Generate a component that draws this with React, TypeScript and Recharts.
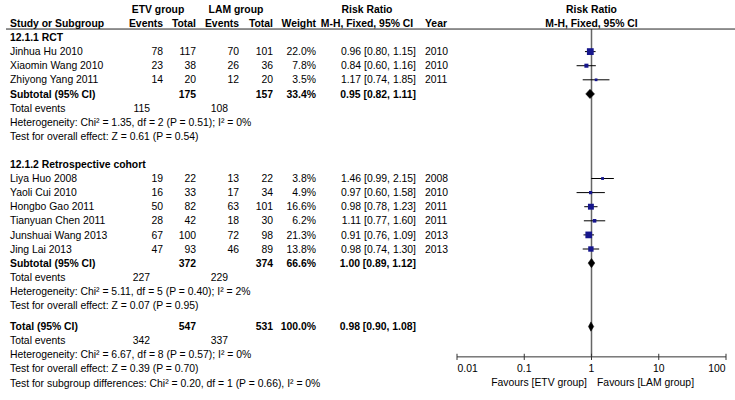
import React from "react";
import { ScatterChart, Scatter, XAxis, YAxis, ReferenceLine, ReferenceDot } from "recharts";

// ---- data ----
const groupTitles = ["12.1.1 RCT", "12.1.2 Retrospective cohort"];

const studyGroup = [0, 0, 0, 1, 1, 1, 1, 1, 1];
const studyNames = [
  "Jinhua Hu 2010",
  "Xiaomin Wang 2010",
  "Zhiyong Yang 2011",
  "Liya Huo 2008",
  "Yaoli Cui 2010",
  "Hongbo Gao 2011",
  "Tianyuan Chen 2011",
  "Junshuai Wang 2013",
  "Jing Lai 2013",
];
const etvEvents = [78, 23, 14, 19, 16, 50, 28, 67, 47];
const etvTotals = [117, 38, 20, 22, 33, 82, 42, 100, 93];
const lamEvents = [70, 26, 12, 13, 17, 63, 18, 72, 46];
const lamTotals = [101, 36, 20, 22, 34, 101, 30, 98, 89];
const studyWeights = [22.0, 7.8, 3.5, 3.8, 4.9, 16.6, 6.2, 21.3, 13.8];
const riskRatios = [0.96, 0.84, 1.17, 1.46, 0.97, 0.98, 1.11, 0.91, 0.98];
const ciLower = [0.8, 0.6, 0.74, 0.99, 0.6, 0.78, 0.77, 0.76, 0.74];
const ciUpper = [1.15, 1.16, 1.85, 2.15, 1.58, 1.23, 1.6, 1.09, 1.3];
const studyYears = [2010, 2010, 2011, 2008, 2010, 2011, 2011, 2013, 2013];

// pooled: RCT subtotal, cohort subtotal, overall total
const pooledLabels = ["Subtotal (95% CI)", "Subtotal (95% CI)", "Total (95% CI)"];
const pooledEtvTotals = [175, 372, 547];
const pooledLamTotals = [157, 374, 531];
const pooledWeights = [33.4, 66.6, 100.0];
const pooledRR = [0.95, 1.0, 0.98];
const pooledLower = [0.82, 0.89, 0.9];
const pooledUpper = [1.11, 1.12, 1.08];
const pooledEtvEvents = [115, 227, 342];
const pooledLamEvents = [108, 229, 337];
const heterogeneityText = [
  "Heterogeneity: Chi² = 1.35, df = 2 (P = 0.51); I² = 0%",
  "Heterogeneity: Chi² = 5.11, df = 5 (P = 0.40); I² = 2%",
  "Heterogeneity: Chi² = 6.67, df = 8 (P = 0.57); I² = 0%",
];
const overallEffectText = [
  "Test for overall effect: Z = 0.61 (P = 0.54)",
  "Test for overall effect: Z = 0.07 (P = 0.95)",
  "Test for overall effect: Z = 0.39 (P = 0.70)",
];
const subgroupTestText = "Test for subgroup differences: Chi² = 0.20, df = 1 (P = 0.66), I² = 0%";

const axisTicks = [0.01, 0.1, 1, 10, 100];
const axisTickLabels = ["0.01", "0.1", "1", "10", "100"];
const favoursLabels = ["Favours [ETV group]", "Favours [LAM group]"];

// ---- layout (y in row units) ----
const FS = 10.4;
const ROW_PX = 14.1;
const Y_MIN = -2.66;
const Y_MAX = Y_MIN + 400 / ROW_PX;
const GROUP_GAPS = [1, 0.5];

type Row = { slot: number; kind: string; idx: number };

const rows: Row[] = [
  { slot: -2, kind: "head1", idx: 0 },
  { slot: -1, kind: "head2", idx: 0 },
  { slot: -0.6, kind: "rule", idx: 0 },
];
const studySlot: number[] = [];
const pooledSlot: number[] = [];
let slot = 0;
groupTitles.forEach((_, g) => {
  rows.push({ slot: slot++, kind: "group", idx: g });
  studyNames.forEach((_, i) => {
    if (studyGroup[i] !== g) return;
    studySlot[i] = slot;
    rows.push({ slot: slot++, kind: "study", idx: i });
  });
  pooledSlot[g] = slot;
  rows.push({ slot: slot++, kind: "pooled", idx: g });
  rows.push({ slot: slot++, kind: "events", idx: g });
  rows.push({ slot: slot++, kind: "het", idx: g });
  rows.push({ slot: slot++, kind: "effect", idx: g });
  slot += GROUP_GAPS[g];
});
const T = groupTitles.length;
pooledSlot[T] = slot;
rows.push({ slot: slot++, kind: "pooled", idx: T });
rows.push({ slot: slot++, kind: "events", idx: T });
rows.push({ slot: slot++, kind: "het", idx: T });
rows.push({ slot: slot++, kind: "effect", idx: T });
rows.push({ slot: slot++, kind: "subgroup", idx: T });

const RULE_SLOT = -0.6;
const AXIS_SLOT = pooledSlot[T] + 2.15;
const TICK_LABEL_SLOT = AXIS_SLOT + 0.78;
const FAVOURS_SLOT = AXIS_SLOT + 1.8;

const squareData = studyNames.map((_, i) => ({
  x: riskRatios[i],
  y: studySlot[i],
  w: studyWeights[i],
}));

const diamondData = pooledRR.map((rr, k) => [
  { x: pooledLower[k], y: pooledSlot[k] },
  { x: rr, y: pooledSlot[k] - 0.33 },
  { x: pooledUpper[k], y: pooledSlot[k] },
  { x: rr, y: pooledSlot[k] + 0.33 },
]);

const fmt = (v: number) => v.toFixed(2);
const ci = (rr: number, lo: number, hi: number) => `${fmt(rr)} [${fmt(lo)}, ${fmt(hi)}]`;

function RowTick(props: any) {
  const { y, payload } = props;
  const row = rows.find((r) => Math.abs(r.slot - payload.value) < 1e-6);
  if (!row) return <g />;
  const t = (x: number, s: string | number, anchor = "start", bold = false) => (
    <text
      x={x}
      y={y}
      dy="0.35em"
      textAnchor={anchor}
      fontWeight={bold ? "bold" : "normal"}
      fontSize={FS}
      fill="#000"
    >
      {s}
    </text>
  );
  const i = row.idx;
  switch (row.kind) {
    case "head1":
      return (
        <g>
          {t(158, "ETV group", "middle", true)}
          {t(236, "LAM group", "middle", true)}
          {t(367, "Risk Ratio", "middle", true)}
        </g>
      );
    case "head2":
      return (
        <g>
          {t(10, "Study or Subgroup", "start", true)}
          {t(163, "Events", "end", true)}
          {t(196, "Total", "end", true)}
          {t(239, "Events", "end", true)}
          {t(273, "Total", "end", true)}
          {t(316, "Weight", "end", true)}
          {t(367, "M-H, Fixed, 95% CI", "middle", true)}
          {t(425, "Year", "start", true)}
        </g>
      );
    case "rule":
      return <line x1={6} x2={735} y1={y} y2={y} stroke="#222" strokeWidth={1} />;
    case "group":
      return <g>{t(10, groupTitles[i], "start", true)}</g>;
    case "study":
      return (
        <g>
          {t(10, studyNames[i])}
          {t(163, etvEvents[i], "end")}
          {t(196, etvTotals[i], "end")}
          {t(239, lamEvents[i], "end")}
          {t(273, lamTotals[i], "end")}
          {t(316, studyWeights[i].toFixed(1) + "%", "end")}
          {t(416, ci(riskRatios[i], ciLower[i], ciUpper[i]), "end")}
          {t(425, studyYears[i])}
        </g>
      );
    case "pooled":
      return (
        <g>
          {t(10, pooledLabels[i], "start", true)}
          {t(196, pooledEtvTotals[i], "end", true)}
          {t(273, pooledLamTotals[i], "end", true)}
          {t(316, pooledWeights[i].toFixed(1) + "%", "end", true)}
          {t(416, ci(pooledRR[i], pooledLower[i], pooledUpper[i]), "end", true)}
        </g>
      );
    case "events":
      return (
        <g>
          {t(10, "Total events")}
          {t(150, pooledEtvEvents[i], "end")}
          {t(228, pooledLamEvents[i], "end")}
        </g>
      );
    case "het":
      return <g>{t(10, heterogeneityText[i])}</g>;
    case "effect":
      return <g>{t(10, overallEffectText[i])}</g>;
    case "subgroup":
      return <g>{t(10, subgroupTestText)}</g>;
  }
  return <g />;
}

const Square = (props: any) => {
  const { cx, cy, payload } = props;
  const s = Math.max(2.6, 1.45 * Math.sqrt(payload.w));
  return <rect x={cx - s / 2} y={cy - s / 2} width={s} height={s} fill="#16168c" />;
};

const DiamondPolygon = (props: any) => {
  const pts = (props.points || []).map((p: any) => `${p.x},${p.y}`).join(" ");
  return <polygon points={pts} fill="#000" stroke="#000" strokeWidth={0.5} />;
};

const labelStyle = { fill: "#000", fontSize: FS };

export default function App() {
  return (
    <div style={{ position: "absolute", left: 0, top: 0, fontFamily: "Arial, 'Liberation Sans', sans-serif" }}>
      <ScatterChart width={735} height={400} margin={{ top: 0, right: 9, bottom: 0, left: 0 }}>
        <XAxis type="number" dataKey="x" scale="log" domain={[0.01, 100]} allowDataOverflow hide />
        <YAxis
          type="number"
          dataKey="y"
          domain={[Y_MIN, Y_MAX]}
          allowDataOverflow
          reversed
          ticks={rows.map((r) => r.slot)}
          interval={0}
          width={457}
          axisLine={false}
          tickLine={false}
          tick={(p: any) => <RowTick {...p} />}
        />

        {/* right header */}
        <ReferenceDot x={1} y={-2} r={0.5} fill="none" stroke="none"
          label={{ value: "Risk Ratio", position: "center", fontWeight: "bold", ...labelStyle }} />
        <ReferenceDot x={1} y={-1} r={0.5} fill="none" stroke="none"
          label={{ value: "M-H, Fixed, 95% CI", position: "center", fontWeight: "bold", ...labelStyle }} />

        {/* line of no effect */}
        <ReferenceLine
          segment={[{ x: 1, y: RULE_SLOT }, { x: 1, y: AXIS_SLOT }]}
          stroke="#666"
          strokeWidth={1.5}
        />

        {/* confidence intervals */}
        {studyNames.map((n, i) => (
          <ReferenceLine
            key={n}
            segment={[{ x: ciLower[i], y: studySlot[i] }, { x: ciUpper[i], y: studySlot[i] }]}
            stroke="#000"
            strokeWidth={1}
          />
        ))}

        {/* axis */}
        <ReferenceLine
          segment={[{ x: axisTicks[0], y: AXIS_SLOT }, { x: axisTicks[axisTicks.length - 1], y: AXIS_SLOT }]}
          stroke="#333"
          strokeWidth={1}
        />
        {axisTicks.map((tk) => (
          <ReferenceLine
            key={"t" + tk}
            segment={[{ x: tk, y: AXIS_SLOT - 0.22 }, { x: tk, y: AXIS_SLOT + 0.22 }]}
            stroke="#333"
            strokeWidth={1}
          />
        ))}
        {axisTicks.map((tk, k) => (
          <ReferenceDot
            key={"l" + tk}
            x={tk}
            y={TICK_LABEL_SLOT}
            r={0.5}
            fill="none"
            stroke="none"
            label={{
              value: axisTickLabels[k],
              position: k === 0 ? "right" : k === axisTicks.length - 1 ? "left" : "center",
              offset: 0,
              ...labelStyle,
            }}
          />
        ))}
        <ReferenceDot x={1} y={FAVOURS_SLOT} r={0.5} fill="none" stroke="none"
          label={{ value: favoursLabels[0], position: "left", offset: 4, ...labelStyle }} />
        <ReferenceDot x={1} y={FAVOURS_SLOT} r={0.5} fill="none" stroke="none"
          label={{ value: favoursLabels[1], position: "right", offset: 5, ...labelStyle }} />

        <Scatter data={squareData} shape={<Square />} isAnimationActive={false} />
        {diamondData.map((d, k) => (
          <Scatter
            key={"d" + k}
            data={d}
            shape={() => <g />}
            line={(p: any) => <DiamondPolygon {...p} />}
            lineType="joint"
            isAnimationActive={false}
          />
        ))}
      </ScatterChart>
    </div>
  );
}
